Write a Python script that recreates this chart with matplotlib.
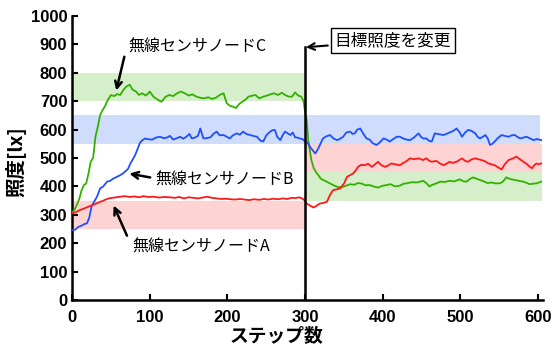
import matplotlib
matplotlib.use('Agg')
import matplotlib.pyplot as plt

# sensor C (green)
c_step = [0, 3, 6, 9, 12, 15, 18, 21, 24, 27, 30, 33, 36, 39, 42, 46, 50, 54, 58, 62, 66, 70, 74, 78, 82, 86, 90,
          95, 100, 105, 110, 115, 120, 125, 130, 135, 140, 145, 150, 155, 160, 165, 170, 175, 180, 185, 190, 195,
          199, 203, 207, 211, 215, 219, 223, 227, 231, 236, 241, 246, 250, 255, 260, 265, 270, 274, 279, 283, 287,
          291, 295, 298, 300, 302, 304, 306, 308, 311, 314, 317, 320, 323, 327, 332, 336, 341, 345, 349, 354, 358,
          363, 368, 373, 378, 383, 388, 394, 399, 405, 410, 416, 422, 427, 431, 437, 444, 448, 452, 456, 460, 463,
          468, 474, 480, 486, 492, 499, 504, 508, 512, 516, 520, 525, 530, 535, 540, 545, 551, 555, 559, 564, 570,
          575, 581, 586, 589, 594, 598, 604]
c_lux = [307, 318, 335, 355, 385, 405, 410, 445, 488, 500, 575, 610, 651, 668, 681, 705, 722, 718, 725, 722, 740,
         752, 758, 740, 735, 722, 728, 720, 734, 715, 706, 698, 715, 722, 718, 728, 734, 728, 720, 724, 716, 712,
         710, 714, 708, 712, 722, 728, 693, 684, 681, 676, 690, 698, 705, 716, 719, 722, 710, 716, 719, 724, 728,
         722, 730, 722, 716, 716, 731, 720, 716, 700, 660, 634, 563, 528, 493, 465, 450, 440, 428, 423, 418, 411,
         405, 399, 397, 399, 404, 408, 406, 412, 410, 404, 405, 400, 396, 402, 405, 408, 400, 403, 410, 411, 415,
         414, 417, 420, 412, 400, 405, 410, 417, 416, 420, 418, 425, 418, 417, 426, 432, 428, 423, 418, 412, 414,
         411, 411, 418, 432, 426, 423, 420, 417, 412, 408, 410, 411, 417]

# sensor B (blue)
b_step = [0, 4, 8, 12, 16, 19, 22, 25, 28, 32, 36, 40, 45, 49, 53, 57, 62, 65, 68, 72, 75, 78, 81, 84, 87, 90, 94,
          98, 103, 108, 113, 118, 122, 126, 130, 135, 139, 143, 148, 151, 154, 158, 162, 165, 169, 173, 178, 182,
          186, 190, 195, 199, 203, 207, 212, 216, 220, 224, 229, 233, 238, 242, 246, 250, 255, 258, 261, 264, 268,
          271, 274, 278, 281, 284, 287, 290, 293, 297, 300, 303, 306, 309, 313, 317, 320, 323, 327, 332, 336, 341,
          345, 349, 353, 358, 361, 364, 367, 371, 375, 379, 383, 387, 392, 396, 401, 405, 409, 413, 418, 422, 427,
          431, 435, 440, 446, 449, 452, 456, 460, 463, 467, 470, 474, 478, 482, 486, 489, 492, 495, 499, 502, 506,
          510, 514, 519, 522, 525, 529, 532, 535, 538, 541, 544, 548, 553, 557, 562, 566, 570, 573, 577, 581, 585,
          589, 594, 598, 604]
b_lux = [246, 248, 258, 262, 268, 270, 290, 329, 345, 364, 393, 400, 417, 420, 428, 433, 440, 445, 452, 462, 481,
         495, 510, 530, 552, 562, 569, 566, 565, 572, 575, 570, 572, 578, 565, 570, 575, 568, 577, 585, 569, 572,
         578, 604, 569, 570, 573, 585, 593, 580, 581, 575, 569, 580, 587, 582, 593, 585, 581, 578, 575, 562, 558,
         580, 593, 598, 599, 575, 563, 580, 593, 586, 581, 590, 573, 572, 569, 566, 558, 555, 540, 530, 516, 534,
         552, 569, 576, 581, 570, 563, 568, 575, 590, 593, 585, 587, 600, 604, 585, 569, 565, 552, 546, 555, 569,
         565, 558, 566, 575, 575, 568, 565, 563, 572, 587, 575, 569, 569, 560, 558, 587, 585, 583, 581, 585, 590,
         593, 598, 604, 590, 575, 590, 599, 596, 587, 575, 569, 575, 581, 570, 546, 550, 558, 570, 581, 578, 575,
         580, 581, 575, 569, 572, 575, 570, 563, 567, 563]

# sensor A (red)
a_step = [0, 5, 10, 15, 20, 23, 27, 31, 36, 40, 44, 47, 52, 57, 62, 68, 74, 80, 86, 92, 98, 105, 112, 118, 126,
          132, 138, 144, 150, 156, 162, 168, 174, 180, 186, 192, 198, 204, 210, 216, 222, 228, 234, 241, 247, 253,
          259, 265, 271, 277, 283, 288, 292, 296, 299, 302, 305, 308, 311, 315, 319, 323, 328, 332, 336, 341, 345,
          350, 354, 358, 362, 366, 368, 372, 377, 381, 386, 390, 394, 398, 403, 407, 411, 416, 422, 426, 431, 435,
          440, 446, 452, 456, 460, 463, 469, 473, 478, 482, 486, 490, 495, 499, 502, 506, 510, 514, 519, 523, 527,
          532, 536, 540, 544, 548, 553, 557, 562, 567, 572, 576, 581, 585, 589, 592, 595, 598, 601, 604]
a_lux = [305, 310, 317, 322, 328, 331, 335, 340, 346, 350, 355, 358, 360, 362, 364, 366, 363, 365, 362, 366, 363,
         364, 361, 363, 362, 360, 363, 358, 362, 360, 358, 361, 364, 360, 358, 356, 357, 355, 354, 356, 354, 352,
         355, 353, 356, 354, 357, 355, 358, 356, 360, 359, 362, 358, 352, 340, 335, 330, 326, 333, 340, 342, 346,
         370, 387, 390, 393, 410, 434, 440, 446, 460, 469, 476, 475, 480, 469, 478, 487, 475, 469, 474, 481, 478,
         475, 482, 490, 499, 496, 499, 493, 499, 490, 487, 490, 482, 475, 480, 487, 483, 487, 494, 499, 490, 487,
         495, 499, 496, 493, 488, 481, 478, 475, 468, 460, 478, 493, 498, 505, 497, 487, 480, 470, 464, 475, 481,
         478, 481]

# target bands: (start step, end step, low, high)
c_targets = [(0, 300, 700, 800), (300, 605, 350, 450)]
b_targets = [(0, 603, 550, 650)]
a_targets = [(0, 300, 250, 350), (300, 605, 450, 550)]

jp = ['Noto Sans CJK JP', 'DejaVu Sans']
plt.rcParams['font.family'] = ['Liberation Sans', 'DejaVu Sans']

fig = plt.figure(figsize=(5.55, 3.47), dpi=100)
ax = fig.add_axes([0.130, 0.135, 0.848, 0.819])

for targets, col in [(c_targets, '#d5efca'), (b_targets, '#cfdcfb'), (a_targets, '#fed3d3')]:
    for x0, x1, lo, hi in targets:
        ax.fill_between([x0, x1], lo, hi, color=col, lw=0, zorder=1)

ax.plot(c_step, c_lux, color='#33b000', lw=1.3, zorder=3)
ax.plot(b_step, b_lux, color='#1f4fff', lw=1.3, zorder=3)
ax.plot(a_step, a_lux, color='#ff1a1a', lw=1.3, zorder=3)

ax.plot([300, 300], [0, 890], color='black', lw=1.8, zorder=4)

arrow = dict(arrowstyle='->', color='black', lw=1.8, mutation_scale=12)
ax.annotate('', xy=(56, 728), xytext=(68, 866), arrowprops=arrow, zorder=5)
ax.annotate('', xy=(70, 447), xytext=(104, 430), arrowprops=arrow, zorder=5)
ax.annotate('', xy=(52, 342), xytext=(72, 218), arrowprops=arrow, zorder=5)
ax.text(72, 891, '無線センサノードC', family=jp, fontsize=11.5, ha='left', va='center')
ax.text(107, 423, '無線センサノードB', family=jp, fontsize=11.5, ha='left', va='center')
ax.text(77, 187, '無線センサノードA', family=jp, fontsize=11.5, ha='left', va='center')
ax.annotate('目標照度を変更', xy=(301, 890), xytext=(413, 914), family=jp, fontsize=12,
            ha='center', va='center',
            bbox=dict(boxstyle='square,pad=0.22', fc='white', ec='black', lw=1.0),
            arrowprops=dict(arrowstyle='->', color='black', lw=1.5, mutation_scale=12, shrinkB=0))

ax.set_xlim(0, 606)
ax.set_ylim(0, 1000)
ax.set_xticks(range(0, 601, 100))
ax.set_yticks(range(0, 1001, 100))
ax.tick_params(direction='in', width=1.5, length=4, labelsize=12)
ax.tick_params(axis='x', pad=7)
for lab in ax.get_xticklabels() + ax.get_yticklabels():
    lab.set_fontweight('bold')
for s in ['top', 'right']:
    ax.spines[s].set_visible(False)
for s in ['left', 'bottom']:
    ax.spines[s].set_linewidth(1.8)

ax.set_xlabel('ステップ数', family=jp, fontsize=13.5, fontweight='bold')
ax.xaxis.set_label_coords(0.435, -0.09)
ax.set_ylabel('照度[lx]', family=jp, fontsize=14, fontweight='bold')
ax.yaxis.set_label_coords(-0.098, 0.486)

fig.savefig('out.png', dpi=100)
